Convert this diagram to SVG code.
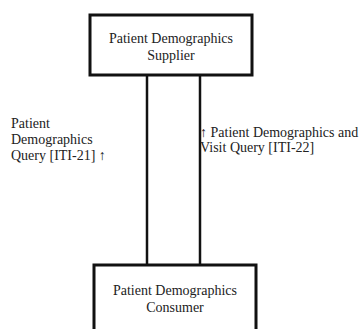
<svg xmlns="http://www.w3.org/2000/svg" width="363" height="329" viewBox="0 0 363 329">
  <style>
    .box { fill: #ffffff; stroke: #111111; stroke-width: 3; }
    .link { stroke: #111111; stroke-width: 2.5; fill: none; }
    text { font-family: 'Liberation Serif', serif; font-size: 14px; fill: #222222; }
    .c { text-anchor: middle; }
  </style>
  <rect width="363" height="329" fill="#ffffff"/>
  <g id="connectors">
    <line class="link" x1="147" y1="75" x2="147" y2="265"/>
    <line class="link" x1="200" y1="75" x2="200" y2="265"/>
  </g>
  <g id="supplier">
    <rect class="box" x="90" y="15" width="162" height="60"/>
    <text class="c" x="171" y="43">Patient Demographics</text>
    <text class="c" x="171" y="60">Supplier</text>
  </g>
  <g id="consumer">
    <rect class="box" x="94" y="265" width="162" height="70"/>
    <text class="c" x="175" y="295">Patient Demographics</text>
    <text class="c" x="175" y="312">Consumer</text>
  </g>
  <g id="label-iti21">
    <text x="11" y="128">Patient</text>
    <text x="11" y="144">Demographics</text>
    <text x="11" y="160">Query [ITI-21] ↑</text>
  </g>
  <g id="label-iti22">
    <text x="200" y="137">↑ Patient Demographics and</text>
    <text x="200" y="152">Visit Query [ITI-22]</text>
  </g>
</svg>
